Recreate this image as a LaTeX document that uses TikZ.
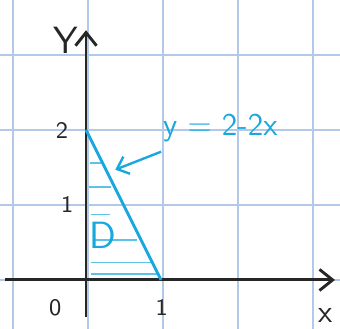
\documentclass[tikz,border=0pt]{standalone}
\usepackage{tikz}
\usetikzlibrary{positioning,arrows.meta}
\definecolor{gridblue}{RGB}{178,202,232}
\definecolor{penblue}{RGB}{24,168,222}

\tikzset{
  gridline/.style={draw=gridblue, line width=0.6pt},
  axis/.style={draw=black!85, line width=1.1pt, -{Straight Barb[length=5pt,width=8pt]}},
  pen/.style={draw=penblue, line width=1.1pt},
  hatch/.style={draw=penblue!70, line width=0.6pt},
  lbl/.style={font=\sffamily\small, text=black!85},
}

\begin{document}
\begin{tikzpicture}
  \useasboundingbox (-1.147,-0.653) rectangle (3.387,3.733);
  \draw[gridline, shift={(0.025,0)}] (-1.2,-0.7) grid (3.4,3.8);

  \coordinate (o)   at (0,0);
  \coordinate (two) at (0,2);
  \coordinate (one) at (1,0);
  \coordinate (tip) at (0.39,1.47);

  % axes
  \draw[axis] (0,-0.49) -- (0,3.33);
  \draw[axis] (-1.08,0) -- (3.32,0);

  % the region D
  \foreach \h/\a/\b in {1.56/0.05/0.2, 1.24/0.04/0.33, 0.87/0.07/0.32,
                        0.53/0.1/0.68, 0.23/0.07/0.86, 0.08/0.07/0.94}
    \draw[hatch] (\a,\h) -- (\b,\h);
  \draw[pen] (two) -- (one);

  \node[lbl, font=\sffamily\Large] (ylabel) at (-0.27,3.2)  {Y};
  \node[lbl] (twolabel) at (-0.32,1.99) {2};
  \node[lbl] (onelabel) at (-0.25,1.0)  {1};
  \node[lbl] (olabel)   at (-0.41,-0.37) {0};
  \node[lbl] (xone)     at (1.01,-0.37) {1};
  \node[lbl, font=\sffamily\large] (xlabel) at (3.19,-0.47) {x};
  \node[font=\sffamily\Large, text=penblue] (dlabel) at (0.23,0.6) {D};
  \node[font=\sffamily\large, text=penblue] (eqn) at (1.79,2.02) {y = 2-2x};

  \draw[pen, line width=0.9pt, -{Straight Barb[length=4pt,width=7pt]}] (eqn) -- (tip);
\end{tikzpicture}
\end{document}
